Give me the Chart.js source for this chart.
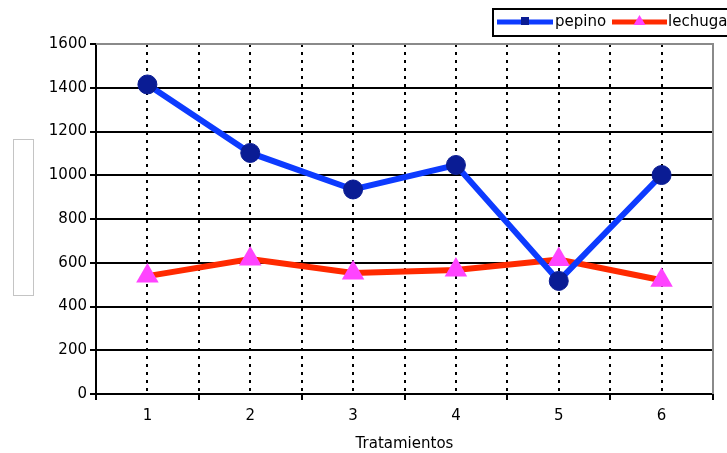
<!DOCTYPE html>
<html><head><meta charset="utf-8">
<script src="https://cdn.jsdelivr.net/npm/chart.js@4/dist/chart.umd.min.js"></script>
<style>html,body{margin:0;padding:0;background:#fff}#wrap{width:727px;height:453px}</style>
</head><body><div id="wrap"><canvas id="c" width="727" height="453"></canvas></div>
<script>
const categories = ['1','2','3','4','5','6'];
const pepino = [1415, 1102, 935, 1047, 517, 1001];
const lechuga = [539, 617, 553, 567, 615, 520];
const yTicks = [0,200,400,600,800,1000,1200,1400,1600];
const seriesNames = ['pepino','lechuga'];
const xTitle = 'Tratamientos';

const toPts = arr => arr.map((v,i)=>({x:i+1,y:v}));

const extras = {
  id:'extras',
  afterDraw(chart){
    const ctx = chart.ctx, a = chart.chartArea;
    ctx.save();
    ctx.strokeStyle = '#8a8a8a'; ctx.lineWidth = 2;
    ctx.beginPath(); ctx.moveTo(a.left, a.top); ctx.lineTo(a.right, a.top); ctx.lineTo(a.right, a.bottom); ctx.stroke();
    ctx.strokeStyle = '#c4c4c4'; ctx.lineWidth = 1;
    ctx.strokeRect(13.5, 139.5, 20, 156);
    ctx.fillStyle = '#fff';
    ctx.fillRect(493, 9, 240, 27);
    ctx.strokeStyle = '#000'; ctx.lineWidth = 2;
    ctx.strokeRect(493, 9, 240, 27);
    ctx.fillStyle='#000'; ctx.fillRect(493,35,240,2);
    const ds = chart.data.datasets;
    const items = [{x0:497,x1:553,tx:555},{x0:612,x1:667,tx:668}];
    items.forEach((it,i)=>{
      const d = ds[i]; const y = 22;
      ctx.strokeStyle = d.borderColor; ctx.lineWidth = 5;
      ctx.beginPath(); ctx.moveTo(it.x0,y); ctx.lineTo(it.x1,y); ctx.stroke();
      const cx = (it.x0+it.x1)/2;
      ctx.fillStyle = d.pointBackgroundColor;
      if (i===0) { ctx.fillRect(cx-4, y-5, 8, 8); }
      else { ctx.beginPath(); ctx.moveTo(cx, y-7); ctx.lineTo(cx+6, y+3); ctx.lineTo(cx-6, y+3); ctx.closePath(); ctx.fill(); }
      ctx.fillStyle='#000'; ctx.font='15px "DejaVu Sans"'; ctx.textBaseline='middle'; ctx.textAlign='left';
      ctx.fillText(seriesNames[i], it.tx, y);
    });
    ctx.restore();
  }
};

new Chart(document.getElementById('c'), {
  type:'line',
  data:{datasets:[
    {label:seriesNames[0], data:toPts(pepino), borderColor:'#0d3bff', borderWidth:6,
     pointStyle:'circle', pointRadius:9.5, pointBackgroundColor:'#0a1c94', pointBorderColor:'#0a1c94', pointBorderWidth:1, tension:0},
    {label:seriesNames[1], data:toPts(lechuga), borderColor:'#ff2a00', borderWidth:6,
     pointStyle:'triangle', pointRadius:13, pointBackgroundColor:'#ff44ff', pointBorderColor:'#ff44ff', pointBorderWidth:0, tension:0}
  ]},
  options:{
    responsive:false, animation:false, devicePixelRatio:1,
    layout:{padding:{top:44,right:14,left:0,bottom:0}},
    plugins:{legend:{display:false}, tooltip:{enabled:false}},
    scales:{
      x:{type:'linear', min:0.5, max:6.5,
        afterBuildTicks(s){ const t=[]; for(let v=0.5; v<=6.5; v+=0.5) t.push({value:v}); s.ticks=t; },
        afterFit(s){ s.height = 59; },
        ticks:{autoSkip:false, maxRotation:0, color:'#000', font:{family:'DejaVu Sans', size:15}, padding:7,
          callback:(v)=> Number.isInteger(v) ? categories[v-1] : ''},
        grid:{color:(c)=> (c.tick && (c.tick.value===0.5||c.tick.value===6.5)) ? 'rgba(0,0,0,0)' : '#000',
          lineWidth:2, drawTicks:true, tickLength:6,
          tickColor:(c)=> (c.tick && Number.isInteger(c.tick.value)) ? 'rgba(0,0,0,0)' : '#000', tickWidth:2, tickBorderDash:[]},
        border:{display:true, color:'#000', width:2, dash:[3,5]},
        title:{display:true, text:xTitle, color:'#000', font:{family:'DejaVu Sans', size:15}, padding:{top:4,bottom:0}}
      },
      y:{min:0, max:1600,
        afterBuildTicks(s){ s.ticks = yTicks.map(v=>({value:v})); },
        afterFit(s){ s.width = 96; },
        ticks:{color:'#000', font:{family:'DejaVu Sans', size:15}, padding:3, callback:(v)=> String(v)},
        grid:{color:(c)=> (c.tick && c.tick.value===1600) ? 'rgba(0,0,0,0)' : '#000', lineWidth:2, tickLength:6, tickColor:'#000'},
        border:{display:true, color:'#000', width:2}
      }
    }
  },
  plugins:[extras]
});
</script></body></html>
